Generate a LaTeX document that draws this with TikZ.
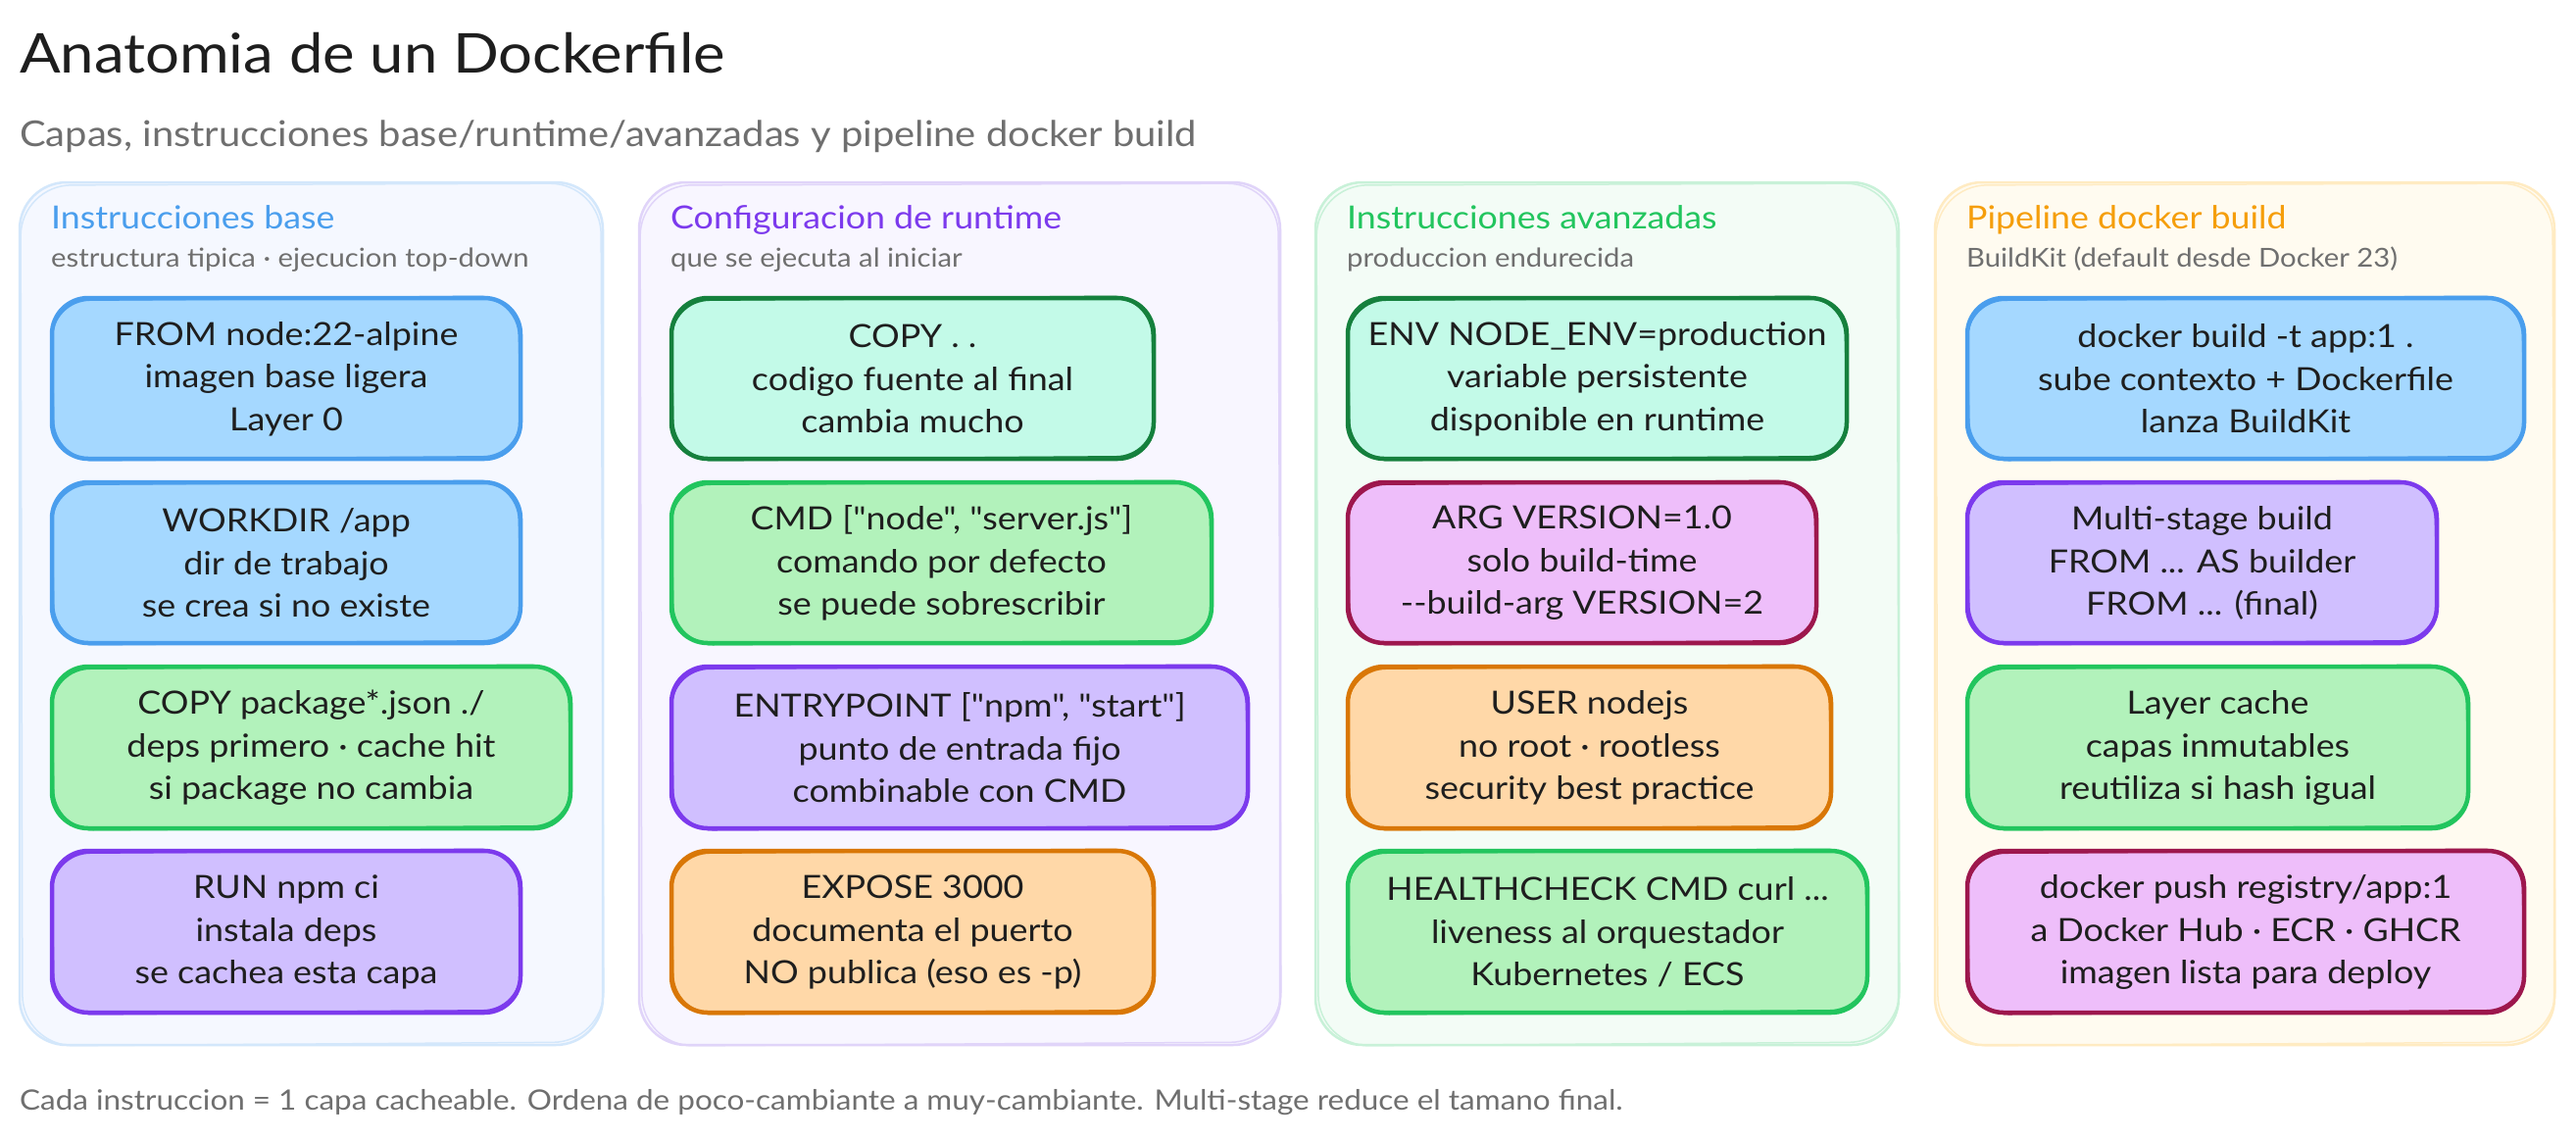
\documentclass[tikz,border=0pt]{standalone}
\usepackage{fontspec}
\newfontfamily\hand[FakeStretch=1.1]{Lato}
\definecolor{ink}{HTML}{1E1E1E}
\definecolor{muted}{HTML}{6F6F6F}
\definecolor{blueS}{HTML}{4A9EED}\definecolor{blueF}{HTML}{A5D8FF}
\definecolor{greenS}{HTML}{22C55E}\definecolor{greenF}{HTML}{B2F2BB}
\definecolor{violetS}{HTML}{7C3AED}\definecolor{violetF}{HTML}{D0BFFF}
\definecolor{orangeS}{HTML}{D97706}\definecolor{orangeF}{HTML}{FFD8A8}
\definecolor{tealS}{HTML}{15803D}\definecolor{tealF}{HTML}{C3FAE8}
\definecolor{pinkS}{HTML}{9D174D}\definecolor{pinkF}{HTML}{EEBEFA}
\definecolor{amber}{HTML}{F59E0B}
\definecolor{panelblueS}{HTML}{D3E7FB}\definecolor{panelblueF}{HTML}{F5F8FF}
\definecolor{panelvioletS}{HTML}{E0D4F9}\definecolor{panelvioletF}{HTML}{F8F6FF}
\definecolor{panelgreenS}{HTML}{C8F1D8}\definecolor{panelgreenF}{HTML}{F3FCF6}
\definecolor{panelamberS}{HTML}{FFEBC2}\definecolor{panelamberF}{HTML}{FFFBF0}
\tikzset{
  card/.style={rectangle,inner sep=0pt,outer sep=0pt,align=center,text=ink,font=\hand\fontsize{32.6}{43.6}\selectfont},
  panel/.style={rectangle,inner sep=0pt,outer sep=0pt},
  titletext/.style={anchor=base west,inner sep=0pt,text=ink,font=\hand\fontsize{56}{60}\selectfont},
  subtext/.style={anchor=base west,inner sep=0pt,text=muted,font=\hand\fontsize{36.3}{40}\selectfont},
  headtext/.style={anchor=base west,inner sep=0pt,font=\hand\fontsize{32.5}{36}\selectfont},
  captext/.style={anchor=base west,inner sep=0pt,text=muted,font=\hand\fontsize{26.6}{30}\selectfont},
  foottext/.style={anchor=base west,inner sep=0pt,text=muted,font=\hand\fontsize{28.6}{32}\selectfont},
  again/.style={rounded corners=#1,line cap=round,line join=round},
}
% name, x1, y1, x2, y2, colour key, text
\newcommand{\cardbox}[7]{%
  \filldraw[again=37pt,fill=#6F,draw=#6S,line width=4.5pt]
    ({#2+2},{#3+2}) -- ({#4-2},{#3+2}) -- ({#4-2},{#5-2}) -- ({#2+2},{#5-2}) -- cycle;
  \draw[again=40pt,#6S,line width=2.5pt]
    ({#2+1},{#3+4}) -- ({#4-4},{#3+0.5}) -- ({#4-0.5},{#5-4}) -- ({#2+4},{#5-0.5}) -- cycle;
  \node[card,minimum width={#4-#2},minimum height={#5-#3}] (#1) at ({(#2+#4)/2},{(#3+#5)/2+0.5}) {#7};
}
% name, x1, y1, x2, y2, colour key
\newcommand{\panelbox}[6]{%
  \filldraw[again=48pt,fill=panel#6F,draw=panel#6S,line width=2.5pt]
    (#2,#3) -- (#4,#3) -- (#4,#5) -- (#2,#5) -- cycle;
  \draw[again=52pt,panel#6S,line width=1.5pt]
    ({#2+1},{#3+3}) -- ({#4-2},{#3+1}) -- ({#4+1},{#5-3}) -- ({#2+3},{#5+1}) -- cycle;
  \node[panel,minimum width={#4-#2},minimum height={#5-#3}] (#1) at ({(#2+#4)/2},{(#3+#5)/2}) {};
}
\begin{document}
\begin{tikzpicture}[x=1pt,y=-1pt]
\useasboundingbox (0,0) rectangle (2628,1163);
\fill[white] (0,0) rectangle (2628,1163);

\node[titletext] (title) at (20,74) {Anatomia de un Dockerfile};
\node[subtext] (subtitle) at (20,149) {Capas, instrucciones base/runtime/avanzadas y pipeline docker build};

\panelbox{p1}{20}{186}{615}{1066}{blue}
\panelbox{p2}{652}{186}{1306}{1066}{violet}
\panelbox{p3}{1342}{186}{1937}{1066}{green}
\panelbox{p4}{1974}{186}{2606}{1066}{amber}

\node[headtext,text=blueS] (h1) at (52,233) {Instrucciones base};
\node[captext] (c1) at (52,272) {estructura tipica · ejecucion top-down};
\node[headtext,text=violetS] (h2) at (684,233) {Configuracion de runtime};
\node[captext] (c2) at (684,272) {que se ejecuta al iniciar};
\node[headtext,text=greenS] (h3) at (1374,233) {Instrucciones avanzadas};
\node[captext] (c3) at (1374,272) {produccion endurecida};
\node[headtext,text=amber] (h4) at (2006,233) {Pipeline docker build};
\node[captext] (c4) at (2006,272) {BuildKit (default desde Docker 23)};

\cardbox{a1}{51}{302}{533}{470}{blue}{FROM node:22-alpine\\imagen base ligera\\Layer 0}
\cardbox{a2}{51}{490}{533}{658}{blue}{WORKDIR /app\\dir de trabajo\\se crea si no existe}
\cardbox{a3}{51}{678}{584}{847}{green}{COPY package*.json ./\\deps primero · cache hit\\si package no cambia}
\cardbox{a4}{51}{866}{533}{1035}{violet}{RUN npm ci\\instala deps\\se cachea esta capa}

\cardbox{b1}{683}{302}{1179}{470}{teal}{COPY . .\\codigo fuente al final\\cambia mucho}
\cardbox{b2}{683}{490}{1238}{658}{green}{CMD ["node", "server.js"]\\comando por defecto\\se puede sobrescribir}
\cardbox{b3}{683}{678}{1275}{847}{violet}{ENTRYPOINT ["npm", "start"]\\punto de entrada fijo\\combinable con CMD}
\cardbox{b4}{683}{866}{1179}{1035}{orange}{EXPOSE 3000\\documenta el puerto\\NO publica (eso es -p)}

\cardbox{c1b}{1373}{302}{1886}{470}{teal}{ENV NODE\_ENV=production\\variable persistente\\disponible en runtime}
\cardbox{c2b}{1373}{490}{1855}{658}{pink}{ARG VERSION=1.0\\solo build-time\\{-}{-}build-arg VERSION=2}
\cardbox{c3b}{1373}{678}{1870}{847}{orange}{USER nodejs\\no root · rootless\\security best practice}
\cardbox{c4b}{1373}{866}{1907}{1035}{green}{HEALTHCHECK CMD curl ...\\liveness al orquestador\\Kubernetes / ECS}

\cardbox{d1}{2005}{302}{2577}{470}{blue}{docker build -t app:1 .\\sube contexto + Dockerfile\\lanza BuildKit}
\cardbox{d2}{2005}{490}{2488}{658}{violet}{Multi-stage build\\FROM ... AS builder\\FROM ... (final)}
\cardbox{d3}{2005}{678}{2520}{847}{green}{Layer cache\\capas inmutables\\reutiliza si hash igual}
\cardbox{d4}{2005}{866}{2577}{1035}{pink}{docker push registry/app:1\\a Docker Hub · ECR · GHCR\\imagen lista para deploy}

\node[foottext] (foot) at (20,1132) {Cada instruccion = 1 capa cacheable. Ordena de poco-cambiante a muy-cambiante. Multi-stage reduce el tamano final.};
\end{tikzpicture}
\end{document}
